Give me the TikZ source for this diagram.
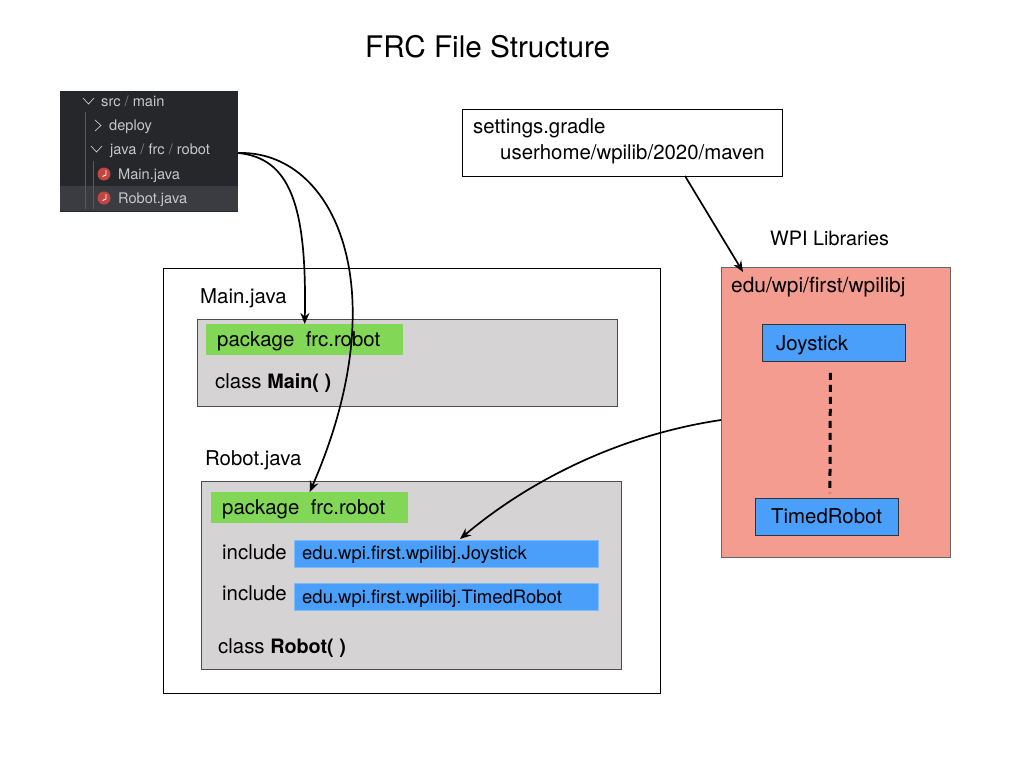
\documentclass[tikz,border=0pt]{standalone}
\usepackage{fontspec}
\setmainfont{TeX Gyre Heros}
\usetikzlibrary{arrows.meta}
\definecolor{panelbg}{HTML}{25272B}
\definecolor{panelrow}{HTML}{3A3C42}
\definecolor{paneltext}{HTML}{C6C7C8}
\definecolor{boxgray}{HTML}{D6D3D4}
\definecolor{libred}{HTML}{F39C8F}
\definecolor{pkggreen}{HTML}{82D856}
\definecolor{incblue}{HTML}{4A9FFB}
\definecolor{iconred}{HTML}{C2453F}
\tikzset{
    txt/.style={anchor=base west, inner sep=0pt, font=\fontsize{20.4}{24}\selectfont},
    small/.style={txt, font=\fontsize{18.5}{22}\selectfont},
    tree/.style={anchor=base west, inner sep=0pt, text=paneltext, font=\fontsize{14.6}{17}\selectfont},
    frame/.style={rectangle, draw=#1, anchor=north west, inner sep=0pt, line width=0.9pt},
    pkgbox/.style={rectangle, fill=pkggreen, anchor=north west, minimum width=197pt, minimum height=31pt, inner sep=0pt},
    incbox/.style={rectangle, fill=incblue, draw=incblue!70!white, line width=0.5pt, anchor=north west, minimum width=304pt, minimum height=27pt, inner sep=0pt},
    libbox/.style={rectangle, fill=incblue, draw=black!80, line width=0.8pt, anchor=north west, minimum width=143pt, minimum height=37pt, inner sep=0pt},
    conn/.style={-{Stealth[length=11pt,width=9pt]}, line width=1.7pt},
    chev/.style={draw=paneltext, line width=0.7pt},
}
\begin{document}
\begin{tikzpicture}[x=1pt, y=-1pt]
    \useasboundingbox (0,0) rectangle (1024,768);
    \node (title) [txt, font=\fontsize{29.7}{34}\selectfont] at (365,58) {FRC File Structure};

    % file tree screenshot
    \node (panel) [rectangle, fill=panelbg, anchor=north west, minimum width=178pt, minimum height=121pt, inner sep=0pt] at (60,91) {};
    \node (selrow) [rectangle, fill=panelrow, anchor=north west, minimum width=178pt, minimum height=25pt, inner sep=0pt] at (60,186) {};
    \draw [draw=gray!70!black, line width=0.5pt] (85,112) -- (85,209);
    \draw [draw=gray!70!black, line width=0.5pt] (93.5,161) -- (93.5,209);
    \draw [chev] (83,98) -- (88.5,104) -- (94,98);
    \draw [chev] (95,120) -- (101,125.5) -- (95,131);
    \draw [chev] (91,146) -- (96.5,152) -- (102,146);
    \node (srcmain) [tree] at (101,106) {src {\color{gray}/} main};
    \node (deploy) [tree] at (109,130) {deploy};
    \node (javadir) [tree] at (110,154) {java {\color{gray}/} frc {\color{gray}/} robot};
    \node (mainfile) [tree] at (118,179) {Main.java};
    \node (robotfile) [tree] at (118,203) {Robot.java};
    \foreach \y in {174,198} {
        \fill [iconred] (104,\y) circle (6.5pt);
        \draw [white, line width=0.9pt] (106,\y-4) -- (106,\y+1) -- (102.5,\y+2.5);
    }
    \coordinate (treeout) at (238,153);

    % settings
    \node (settings) [frame=black, minimum width=320pt, minimum height=67pt] at (461.5,108.5) {};
    \node (gradle) [txt] at (473,133) {settings.gradle};
    \node (maven) [txt] at (500,159) {userhome/wpilib/2020/maven};

    % project
    \node (project) [frame=black, minimum width=497pt, minimum height=425pt] at (162.5,268) {};
    \node (mainlabel) [txt] at (200,303) {Main.java};
    \node (mainbox) [frame=black!70, fill=boxgray, minimum width=420pt, minimum height=87pt] at (197,318.5) {};
    \node (mainpkg) [pkgbox] at (206,324) {};
    \node (mainpkgtxt) [txt] at (217,346) {package\ \ frc.robot};
    \node (mainclass) [txt] at (215,388) {class \textbf{\fontsize{19.8}{24}\selectfont Main( )}};

    \node (robotlabel) [txt] at (205,465) {Robot.java};
    \node (robotbox) [frame=black!70, fill=boxgray, minimum width=420pt, minimum height=188pt] at (201,480.5) {};
    \node (robotpkg) [pkgbox] at (211,492) {};
    \node (robotpkgtxt) [txt] at (222,514) {package\ \ frc.robot};
    \node (inc1) [txt] at (222,559) {include};
    \node (joyinc) [incbox] at (294,540) {};
    \node (joyinctxt) [small] at (302,559) {edu.wpi.first.wpilibj.Joystick};
    \node (inc2) [txt] at (222,600.5) {include};
    \node (timedinc) [incbox] at (294,583) {};
    \node (timedinctxt) [small] at (302,603) {edu.wpi.first.wpilibj.TimedRobot};
    \node (robotclass) [txt] at (218,653) {class \textbf{\fontsize{19.8}{24}\selectfont Robot( )}};

    % libraries
    \node (liblabel) [txt, font=\fontsize{19.8}{24}\selectfont] at (770,245) {WPI Libraries};
    \node (lib) [frame=black!60, fill=libred, minimum width=229pt, minimum height=290pt] at (721,266.5) {};
    \node (libpath) [txt, font=\fontsize{20.9}{24}\selectfont] at (731,292) {edu/wpi/first/wpilibj};
    \node (joystick) [libbox] at (762,324) {};
    \node (joysticktxt) [txt] at (776,350) {Joystick};
    \node (timed) [libbox] at (755,498) {};
    \node (timedtxt) [txt] at (771,523.5) {TimedRobot};

    \coordinate (settingsout) at (685,176);
    \coordinate (libin) at (743,272);
    \coordinate (libout) at (721,420);
    \coordinate (joyin) at (460,539);

    \draw [conn] (treeout) .. controls (290,158) and (307,205) .. (mainpkg.north);
    \draw [conn] (treeout) .. controls (335,150) and (398,290) .. (robotpkg.north);
    \draw [conn] (settingsout) -- (libin);
    \draw [conn] (libout) .. controls (620,435) and (530,480) .. (joyin);
    \draw [line width=3pt, dash pattern=on 7pt off 5pt] ([xshift=-3.5pt,yshift=-11pt]joystick.south) -- ([xshift=3pt,yshift=5pt]timed.north);
\end{tikzpicture}
\end{document}
